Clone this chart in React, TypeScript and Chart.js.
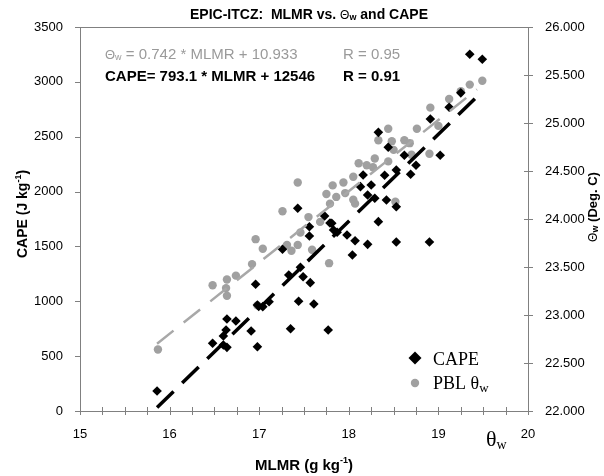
import { useEffect, useRef } from 'react';
import { Chart, registerables } from 'chart.js';
Chart.register(...registerables);

const SANS = '"Liberation Sans", Arial, sans-serif';
const SERIF = '"Liberation Serif", "Times New Roman", serif';
const AXIS = '#808080';
const GREY = '#a0a0a0';

// CAPE (J/kg) vs MLMR (g/kg)
const capeMlmr = [15.86, 16.48, 16.60, 16.64, 16.60, 16.63, 16.64, 16.74, 16.91, 16.98, 16.96, 16.98, 17.04, 17.11, 17.35, 17.44, 17.61, 17.77, 17.33, 17.46, 17.49, 17.57, 17.26, 17.56, 17.56, 17.43, 17.73, 17.81, 17.83, 17.79, 17.87, 17.98, 18.07, 18.04, 18.21, 18.33, 18.53, 18.90, 18.53, 18.42, 18.29, 18.21, 18.13, 18.25, 18.16, 18.40, 18.53, 18.69, 18.75, 18.62, 18.44, 18.33, 19.02, 18.91, 19.12, 19.25, 19.35, 19.49];
const capeValues = [182, 617, 602, 580, 684, 738, 839, 820, 729, 586, 1155, 966, 951, 996, 750, 1000, 975, 738, 1240, 1310, 1224, 1170, 1474, 1595, 1680, 1848, 1778, 1711, 1650, 1714, 1629, 1604, 1552, 1422, 1519, 1726, 1540, 1540, 1862, 1923, 1939, 1969, 2045, 2060, 2151, 2149, 2197, 2158, 2240, 2331, 2404, 2540, 2331, 2662, 2768, 2900, 3252, 3206];

// PBL theta-w (deg C) vs MLMR (g/kg)
const thetaMlmr = [15.87, 16.48, 16.63, 16.64, 16.64, 16.74, 16.92, 16.96, 16.98, 17.04, 17.26, 17.31, 17.36, 17.43, 17.46, 17.43, 17.55, 17.59, 17.68, 17.75, 17.82, 17.78, 17.79, 17.86, 17.94, 17.96, 18.05, 18.05, 18.07, 18.11, 18.20, 18.27, 18.29, 18.33, 18.44, 18.48, 18.50, 18.44, 18.52, 18.62, 18.68, 18.70, 18.76, 18.90, 18.91, 19.00, 19.12, 19.25, 19.35, 19.49];
const thetaValues = [22.64, 23.31, 23.28, 23.20, 23.37, 23.41, 23.53, 23.79, 23.10, 23.69, 24.08, 23.73, 23.67, 23.73, 23.86, 24.38, 24.02, 23.68, 23.97, 24.26, 24.35, 23.54, 24.16, 24.23, 24.38, 24.27, 24.44, 24.20, 24.16, 24.58, 24.56, 24.54, 24.63, 24.82, 24.94, 24.81, 24.72, 24.60, 24.18, 24.82, 24.79, 24.67, 24.94, 24.68, 25.16, 24.97, 25.25, 25.33, 25.40, 25.44];

// linear fits
const thetaSlope = 0.742;
const thetaIntercept = 10.933;
const capeSlope = 793.1;
const capeIntercept = -12546;
const trendRange = [15.86, 19.43];

const xTicks = [15, 16, 17, 18, 19, 20];
const capeTicks = [0, 500, 1000, 1500, 2000, 2500, 3000, 3500];
const thetaTicks = [22, 22.5, 23, 23.5, 24, 24.5, 25, 25.5, 26];

type Seg = { t: string; font: string; dy?: number };

function segWidth(ctx: CanvasRenderingContext2D, segs: Seg[]) {
  let w = 0;
  for (const s of segs) { ctx.font = s.font; w += ctx.measureText(s.t).width; }
  return w;
}
function drawSegs(ctx: CanvasRenderingContext2D, segs: Seg[], x: number, y: number, color: string) {
  ctx.fillStyle = color;
  ctx.textBaseline = 'alphabetic';
  ctx.textAlign = 'left';
  let cx = x;
  for (const s of segs) {
    ctx.font = s.font;
    ctx.fillText(s.t, cx, y + (s.dy || 0));
    cx += ctx.measureText(s.t).width;
  }
}

const decor = {
  id: 'decor',
  beforeDraw(chart: any) {
    const ctx = chart.ctx;
    ctx.save();
    ctx.fillStyle = '#fff';
    ctx.fillRect(0, 0, chart.width, chart.height);
    ctx.restore();
  },
  afterDraw(chart: any) {
    const { ctx, chartArea: a, scales } = chart;
    const xs = scales.x, yc = scales.yCape, yt = scales.yTheta;
    ctx.save();
    ctx.strokeStyle = AXIS;
    ctx.lineWidth = 1;
    ctx.strokeRect(Math.round(a.left) + 0.5, Math.round(a.top) + 0.5, Math.round(a.right - a.left), Math.round(a.bottom - a.top));
    ctx.beginPath();
    for (let v = xTicks[0]; v <= xTicks[xTicks.length - 1] + 1e-9; v += 0.25) {
      const px = Math.round(xs.getPixelForValue(v)) + 0.5;
      ctx.moveTo(px, a.bottom - 4);
      ctx.lineTo(px, a.bottom + 4);
    }
    for (const v of capeTicks) {
      const py = Math.round(yc.getPixelForValue(v)) + 0.5;
      ctx.moveTo(a.left - 5, py);
      ctx.lineTo(a.left, py);
    }
    for (const v of thetaTicks) {
      const py = Math.round(yt.getPixelForValue(v)) + 0.5;
      ctx.moveTo(a.right - 4, py);
      ctx.lineTo(a.right + 5, py);
    }
    ctx.stroke();

    // title
    const title: Seg[] = [
      { t: 'EPIC-ITCZ:  MLMR vs. ', font: `bold 14px ${SANS}` },
      { t: 'Θ', font: `12px ${SANS}` },
      { t: 'w', font: `bold 9px ${SANS}`, dy: 1 },
      { t: ' and CAPE', font: `bold 14px ${SANS}` },
    ];
    drawSegs(ctx, title, 309 - segWidth(ctx, title) / 2, 19, '#000');

    // equations
    drawSegs(ctx, [
      { t: 'Θ', font: `13px ${SANS}` },
      { t: 'w', font: `9px ${SANS}`, dy: 1 },
      { t: ' = 0.742 * MLMR + 10.933', font: `15px ${SANS}` },
    ], 105, 59, '#9a9a9a');
    drawSegs(ctx, [{ t: 'R = 0.95', font: `15px ${SANS}` }], 343, 59, '#9a9a9a');
    drawSegs(ctx, [{ t: 'CAPE= 793.1 * MLMR + 12546', font: `bold 15px ${SANS}` }], 105, 81, '#000');
    drawSegs(ctx, [{ t: 'R = 0.91', font: `bold 15px ${SANS}` }], 343, 81, '#000');

    // left axis title
    const lt: Seg[] = [
      { t: 'CAPE (J kg', font: `bold 14px ${SANS}` },
      { t: '-1', font: `bold 9px ${SANS}`, dy: -6 },
      { t: ')', font: `bold 14px ${SANS}` },
    ];
    ctx.save();
    ctx.translate(27, 214);
    ctx.rotate(-Math.PI / 2);
    drawSegs(ctx, lt, -segWidth(ctx, lt) / 2, 0, '#000');
    ctx.restore();

    // right axis title
    const rt: Seg[] = [
      { t: 'Θ', font: `12px ${SANS}` },
      { t: 'w', font: `bold 9px ${SANS}`, dy: 1 },
      { t: ' (Deg. C)', font: `bold 13px ${SANS}` },
    ];
    ctx.save();
    ctx.translate(597, 207);
    ctx.rotate(-Math.PI / 2);
    drawSegs(ctx, rt, -segWidth(ctx, rt) / 2, 0, '#000');
    ctx.restore();

    // x title
    const xt: Seg[] = [
      { t: 'MLMR (g kg', font: `bold 15px ${SANS}` },
      { t: '-1', font: `bold 9px ${SANS}`, dy: -7 },
      { t: ')', font: `bold 15px ${SANS}` },
    ];
    drawSegs(ctx, xt, 304 - segWidth(ctx, xt) / 2, 470, '#000');

    // theta-w label under axis
    drawSegs(ctx, [
      { t: 'θ', font: `22px ${SERIF}` },
      { t: 'w', font: `14px ${SERIF}`, dy: 3 },
    ], 486, 446, '#000');

    // legend
    ctx.fillStyle = '#000';
    ctx.beginPath();
    ctx.moveTo(415, 358 - 6.5);
    ctx.lineTo(415 + 6.5, 358);
    ctx.lineTo(415, 358 + 6.5);
    ctx.lineTo(415 - 6.5, 358);
    ctx.closePath();
    ctx.fill();
    ctx.fillStyle = GREY;
    ctx.beginPath();
    ctx.arc(415, 383, 4.2, 0, Math.PI * 2);
    ctx.fill();
    drawSegs(ctx, [{ t: 'CAPE', font: `18px ${SERIF}` }], 433, 365, '#000');
    drawSegs(ctx, [
      { t: 'PBL θ', font: `18px ${SERIF}` },
      { t: 'w', font: `13px ${SERIF}`, dy: 3 },
    ], 433, 389, '#000');
    ctx.restore();
  },
};

export default function App() {
  const ref = useRef<HTMLCanvasElement>(null);
  useEffect(() => {
    document.body.style.margin = '0';
    const canvas = ref.current!;
    const capePts = capeMlmr.map((x, i) => ({ x, y: capeValues[i] }));
    const thetaPts = thetaMlmr.map((x, i) => ({ x, y: thetaValues[i] }));
    const capeFit = trendRange.map((x) => ({ x, y: capeSlope * x + capeIntercept }));
    const thetaFit = trendRange.map((x) => ({ x, y: thetaSlope * x + thetaIntercept }));
    const tickFont = { family: SANS, size: 13 };
    const chart = new Chart(canvas, {
      type: 'scatter',
      data: {
        datasets: [
          {
            label: 'CAPE fit', data: capeFit, yAxisID: 'yCape', showLine: true,
            borderColor: '#000', borderWidth: 3.5, borderDash: [23, 12], pointRadius: 0, fill: false,
          } as any,
          {
            label: 'theta fit', data: thetaFit, yAxisID: 'yTheta', showLine: true,
            borderColor: '#a8a8a8', borderWidth: 2.5, borderDash: [21, 13], pointRadius: 0, fill: false,
          } as any,
          {
            label: 'CAPE', data: capePts, yAxisID: 'yCape', pointStyle: 'rectRot',
            pointRadius: 4.8, backgroundColor: '#000', borderWidth: 0,
          } as any,
          {
            label: 'PBL θw', data: thetaPts, yAxisID: 'yTheta', pointStyle: 'circle',
            pointRadius: 4.2, backgroundColor: GREY, borderWidth: 0,
          } as any,
        ],
      },
      options: {
        responsive: false,
        animation: false,
        devicePixelRatio: 1,
        layout: { padding: { top: 27, left: 0, right: 0, bottom: 0 } },
        plugins: { legend: { display: false }, tooltip: { enabled: false }, title: { display: false } },
        scales: {
          x: {
            type: 'linear', position: 'bottom', min: 15, max: 20,
            grid: { display: false }, border: { display: false },
            afterBuildTicks: (s: any) => { s.ticks = xTicks.map((v) => ({ value: v })); },
            ticks: { font: tickFont, color: '#000', padding: 8, autoSkip: false, maxRotation: 0, callback: (v: any) => String(v) },
            afterFit: (s: any) => { s.height = 65; },
          },
          yCape: {
            type: 'linear', position: 'left', min: 0, max: 3500,
            grid: { display: false }, border: { display: false },
            afterBuildTicks: (s: any) => { s.ticks = capeTicks.map((v) => ({ value: v })); },
            ticks: { font: tickFont, color: '#000', padding: 9, callback: (v: any) => String(v) },
            afterFit: (s: any) => { s.width = 80; },
          },
          yTheta: {
            type: 'linear', position: 'right', min: 22, max: 26,
            grid: { display: false }, border: { display: false },
            afterBuildTicks: (s: any) => { s.ticks = thetaTicks.map((v) => ({ value: v })); },
            ticks: { font: tickFont, color: '#000', padding: 9, callback: (v: any) => Number(v).toFixed(3) },
            afterFit: (s: any) => { s.width = 76; },
          },
        },
      } as any,
      plugins: [decor],
    });
    return () => chart.destroy();
  }, []);
  return (
    <div style={{ width: 604, height: 476 }}>
      <canvas ref={ref} width={604} height={476} style={{ display: 'block' }} />
    </div>
  );
}
